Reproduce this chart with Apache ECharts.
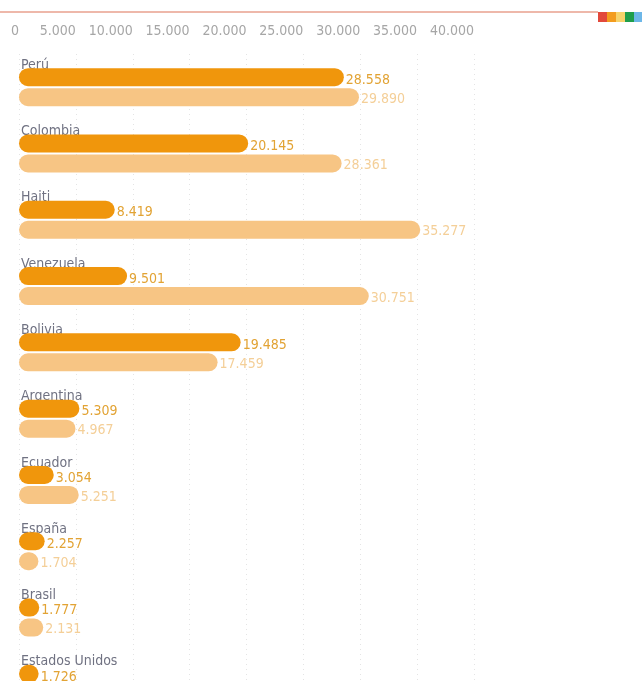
<!DOCTYPE html>
<html>
<head>
<meta charset="utf-8">
<script src="https://cdn.jsdelivr.net/npm/echarts@6/dist/echarts.min.js"></script>
<style>
  html, body { margin: 0; padding: 0; background: #ffffff; }
  #chart { width: 642px; height: 681px; }
</style>
</head>
<body>
<div id="chart"></div>
<script>
// Countries, top to bottom
const countries = ['Perú', 'Colombia', 'Haiti', 'Venezuela', 'Bolivia', 'Argentina', 'Ecuador', 'España', 'Brasil', 'Estados Unidos'];
// First series (dark orange) and second series (light orange)
const seriesA = [28558, 20145, 8419, 9501, 19485, 5309, 3054, 2257, 1777, 1726];
const seriesB = [29890, 28361, 35277, 30751, 17459, 4967, 5251, 1704, 2131, null];
// Axis ticks
const axisMin = 0, axisMax = 40000, axisStep = 5000;

const FONT = '"DejaVu Sans Condensed", sans-serif';
const fmt = v => String(v).replace(/\B(?=(\d{3})+(?!\d))/g, '.');

const chart = echarts.init(document.getElementById('chart'), null, { renderer: 'canvas' });

chart.setOption({
  animation: false,
  backgroundColor: '#ffffff',
  textStyle: { fontFamily: FONT },
  grid: { left: 19, top: 54, width: 455, height: 663, containLabel: false, outerBoundsMode: 'none' },
  xAxis: {
    type: 'value',
    position: 'top',
    min: axisMin, max: axisMax, interval: axisStep,
    axisLine: { show: false },
    axisTick: { show: false },
    axisLabel: {
      color: '#a6a6a6', fontSize: 14, fontFamily: FONT, margin: 16, align: 'right',
      formatter: v => fmt(v)
    },
    splitLine: { show: true, lineStyle: { color: '#e4e4e4', type: [1, 4], width: 1 } }
  },
  yAxis: {
    type: 'category',
    data: countries,
    inverse: true,
    axisLine: { show: false },
    axisTick: { show: false },
    splitLine: { show: false },
    axisLabel: {
      inside: true, align: 'left', margin: 2,
      formatter: v => '{n|' + v + '}\n{s|}',
      rich: {
        n: { color: '#707282', fontSize: 14, fontFamily: FONT, height: 18 },
        s: { height: 44 }
      }
    }
  },
  series: [
    {
      type: 'bar', data: seriesA, barWidth: 18, barGap: '11%',
      itemStyle: { color: '#f0960c', borderRadius: 9 },
      label: {
        show: true, position: 'right', distance: 2, offset: [0, 3],
        color: '#e2a334', fontSize: 14, fontFamily: FONT,
        formatter: p => fmt(p.value)
      }
    },
    {
      type: 'bar', data: seriesB, barWidth: 18,
      itemStyle: { color: '#f7c584', borderRadius: 9 },
      label: {
        show: true, position: 'right', distance: 2, offset: [0, 2],
        color: '#f4cf98', fontSize: 14, fontFamily: FONT,
        formatter: p => fmt(p.value)
      }
    }
  ],
  graphic: [
    { type: 'line', shape: { x1: 0, y1: 12, x2: 598, y2: 12 }, style: { stroke: '#e8a08e', lineWidth: 1.5 } },
    { type: 'rect', shape: { x: 598, y: 12, width: 9, height: 10 }, style: { fill: '#e2493b' } },
    { type: 'rect', shape: { x: 607, y: 12, width: 9, height: 10 }, style: { fill: '#f39c1e' } },
    { type: 'rect', shape: { x: 616, y: 12, width: 9, height: 10 }, style: { fill: '#f6d36c' } },
    { type: 'rect', shape: { x: 625, y: 12, width: 9, height: 10 }, style: { fill: '#1f9e4b' } },
    { type: 'rect', shape: { x: 634, y: 12, width: 8, height: 10 }, style: { fill: '#6db7e8' } }
  ]
});
</script>
</body>
</html>
